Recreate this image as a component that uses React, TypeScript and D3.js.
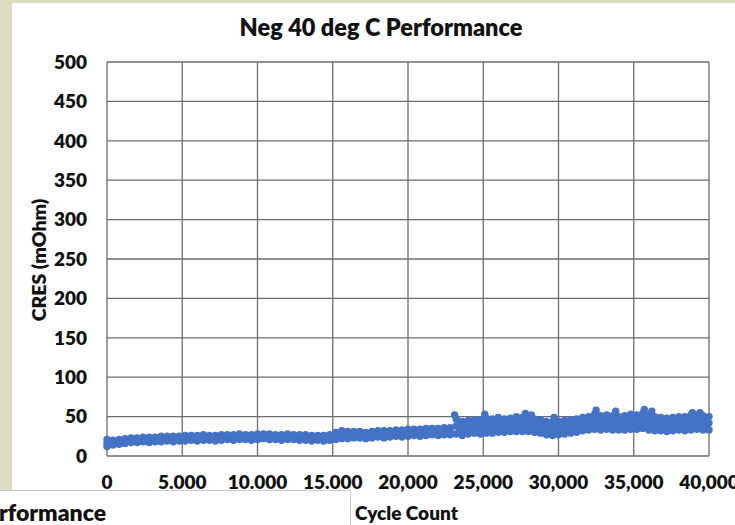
import * as d3 from 'd3';

const cycles = [
  0, 400, 800, 1200, 1600, 2000, 2400, 2800, 3200, 3600,
  4000, 4400, 4800, 5200, 5600, 6000, 6400, 6800, 7200, 7600,
  8000, 8400, 8800, 9200, 9600, 10000, 10400, 10800, 11200, 11600,
  12000, 12400, 12800, 13200, 13600, 14000, 14400, 14800, 15200, 15600,
  16000, 16400, 16800, 17200, 17600, 18000, 18400, 18800, 19200, 19600,
  20000, 20400, 20800, 21200, 21600, 22000, 22400, 22800, 23200, 23600,
  24000, 24400, 24800, 25200, 25600, 26000, 26400, 26800, 27200, 27600,
  28000, 28400, 28800, 29200, 29600, 30000, 30400, 30800, 31200, 31600,
  32000, 32400, 32800, 33200, 33600, 34000, 34400, 34800, 35200, 35600,
  36000, 36400, 36800, 37200, 37600, 38000, 38400, 38800, 39200, 39600,
  40000,
];

// CRES readings: lower edge, middle and upper edge of the point cloud
const cresLow = [
  12, 14, 15, 16, 17, 17, 18, 17, 18, 18,
  19, 18, 19, 19, 20, 19, 20, 20, 19, 20,
  21, 20, 21, 21, 20, 21, 22, 21, 21, 20,
  21, 21, 20, 20, 19, 20, 19, 20, 21, 22,
  22, 23, 23, 22, 23, 24, 23, 24, 25, 24,
  25, 26, 25, 26, 27, 26, 27, 27, 28, 26,
  28, 29, 28, 29, 29, 30, 30, 31, 31, 31,
  31, 30, 29, 27, 26, 27, 28, 29, 30, 32,
  33, 34, 33, 34, 33, 33, 33, 34, 34, 35,
  33, 32, 32, 31, 32, 33, 32, 33, 34, 33,
  33,
];

const cresMid = [
  16, 17, 18, 19, 20, 20, 21, 20, 21, 21,
  22, 21, 22, 22, 23, 22, 23, 23, 22, 23,
  24, 23, 24, 24, 23, 24, 25, 24, 24, 23,
  24, 24, 23, 23, 22, 23, 22, 23, 25, 27,
  26, 27, 27, 26, 27, 28, 27, 28, 29, 28,
  29, 30, 29, 30, 31, 30, 31, 32, 38, 35,
  37, 38, 37, 39, 38, 40, 39, 40, 41, 40,
  41, 39, 38, 36, 35, 36, 37, 38, 39, 41,
  42, 44, 43, 44, 43, 42, 43, 44, 43, 45,
  43, 42, 41, 40, 41, 42, 41, 43, 44, 43,
  42,
];

const cresHigh = [
  21, 20, 21, 22, 23, 23, 24, 24, 24, 25,
  25, 25, 25, 26, 26, 26, 27, 26, 26, 27,
  27, 27, 28, 27, 27, 28, 28, 28, 27, 27,
  28, 27, 27, 27, 26, 26, 26, 27, 30, 32,
  31, 31, 31, 30, 31, 32, 32, 32, 33, 33,
  34, 34, 34, 35, 35, 35, 36, 36, 47, 44,
  45, 46, 46, 48, 47, 49, 47, 48, 50, 49,
  50, 47, 46, 44, 43, 44, 45, 46, 47, 49,
  50, 53, 51, 52, 51, 50, 51, 53, 52, 54,
  52, 50, 49, 48, 49, 50, 50, 52, 52, 51,
  50,
];

// after the step near 23,000 cycles the cloud gets wider: extra readings in between
const lateCycles = [
  23400, 23800, 24200, 24600, 25000, 25400, 25800, 26200, 26600, 27000,
  27400, 27800, 28200, 28600, 29000, 29400, 29800, 30200, 30600, 31000,
  31400, 31800, 32200, 32600, 33000, 33400, 33800, 34200, 34600, 35000,
  35400, 35800, 36200, 36600, 37000, 37400, 37800, 38200, 38600, 39000,
  39400, 39800,
];
const lateCresLower = [
  32, 32, 33, 34, 33, 34, 35, 34, 36, 36,
  35, 36, 35, 34, 32, 31, 31, 32, 33, 34,
  36, 37, 39, 39, 38, 39, 38, 38, 39, 38,
  40, 39, 38, 37, 36, 36, 37, 36, 38, 39,
  38, 38,
];
const lateCresUpper = [
  41, 40, 42, 41, 43, 42, 44, 43, 44, 45,
  45, 44, 45, 42, 41, 40, 39, 41, 42, 43,
  44, 46, 47, 48, 47, 48, 47, 46, 48, 47,
  48, 49, 47, 45, 44, 45, 45, 46, 46, 48,
  47, 47,
];

// scattered high readings
const outlierCycles = [23100, 25100, 27800, 28200, 29700, 32500, 33800, 35700, 36200, 38900, 39400];
const outlierCres = [52, 53, 54, 52, 49, 58, 57, 59, 57, 55, 55];

const yTicks = [0, 50, 100, 150, 200, 250, 300, 350, 400, 450, 500];
const xTicks = [0, 5000, 10000, 15000, 20000, 25000, 30000, 35000, 40000];
const xTickLabels = ['0', '5.000', '10.000', '15.000', '20,000', '25,000', '30,000', '35,000', '40,000'];

const W = 735;
const H = 525;
const plot = { left: 107, right: 709, top: 62, bottom: 456 };
const font = 'Lato, "Open Sans", sans-serif';
const gridColor = '#6c6c6c';
const dotColor = '#4472c4';

export default function App() {
  const x = d3.scaleLinear().domain([0, 40000]).range([plot.left, plot.right]);
  const y = d3.scaleLinear().domain([0, 500]).range([plot.bottom, plot.top]);

  const points: [number, number][] = [];
  cycles.forEach((c, i) => {
    points.push([c, cresLow[i]]);
    points.push([c, cresMid[i]]);
    points.push([c, cresHigh[i]]);
  });
  lateCycles.forEach((c, i) => {
    points.push([c, lateCresLower[i]]);
    points.push([c, lateCresUpper[i]]);
  });
  outlierCycles.forEach((c, i) => points.push([c, outlierCres[i]]));

  return (
    <svg
      width={W}
      height={H}
      viewBox={`0 0 ${W} ${H}`}
      style={{ position: 'absolute', left: 0, top: 0, background: '#fff' }}
    >
      {/* surrounding sheet */}
      <rect x={0} y={0} width={W} height={3} fill="#dcdcc3" />
      <rect x={0} y={0} width={12} height={490} fill="#dcdcc3" />
      <line x1={0} x2={351} y1={490.5} y2={490.5} stroke="#c9c9c9" />
      <line x1={350.5} x2={350.5} y1={490} y2={H} stroke="#c9c9c9" />
      <text x={-1} y={521} fontFamily={font} fontWeight={800} fontSize={23} fill="#111">
        rformance
      </text>
      <text x={355} y={520} fontFamily={font} fontWeight={800} fontSize={19} fill="#111">
        Cycle Count
      </text>

      <text x={381} y={36} textAnchor="middle" fontFamily={font} fontWeight={800} fontSize={23.5} fill="#111">
        Neg 40 deg C Performance
      </text>

      {/* grid */}
      <g stroke={gridColor} strokeWidth={1.3}>
        {yTicks.map((t) => (
          <line key={'y' + t} x1={plot.left} x2={plot.right} y1={y(t)} y2={y(t)} />
        ))}
        {xTicks.map((t) => (
          <line key={'x' + t} x1={x(t)} x2={x(t)} y1={plot.top} y2={plot.bottom} />
        ))}
      </g>

      {/* axis labels */}
      <g fontFamily={font} fontWeight={800} fontSize={19} fill="#111">
        {yTicks.map((t) => (
          <text key={t} x={87} y={y(t)} dy="0.36em" textAnchor="end">
            {t}
          </text>
        ))}
        {xTicks.map((t, i) => (
          <text key={t} x={x(t)} y={489} textAnchor="middle">
            {xTickLabels[i]}
          </text>
        ))}
      </g>

      <text
        transform={`translate(46,260) rotate(-90)`}
        textAnchor="middle"
        fontFamily={font}
        fontWeight={800}
        fontSize={19.5}
        fill="#111"
      >
        CRES (mOhm)
      </text>

      {/* data */}
      <g fill={dotColor}>
        {points.map(([c, v], i) => (
          <circle key={i} cx={x(c)} cy={y(v)} r={3.7} />
        ))}
      </g>
    </svg>
  );
}
